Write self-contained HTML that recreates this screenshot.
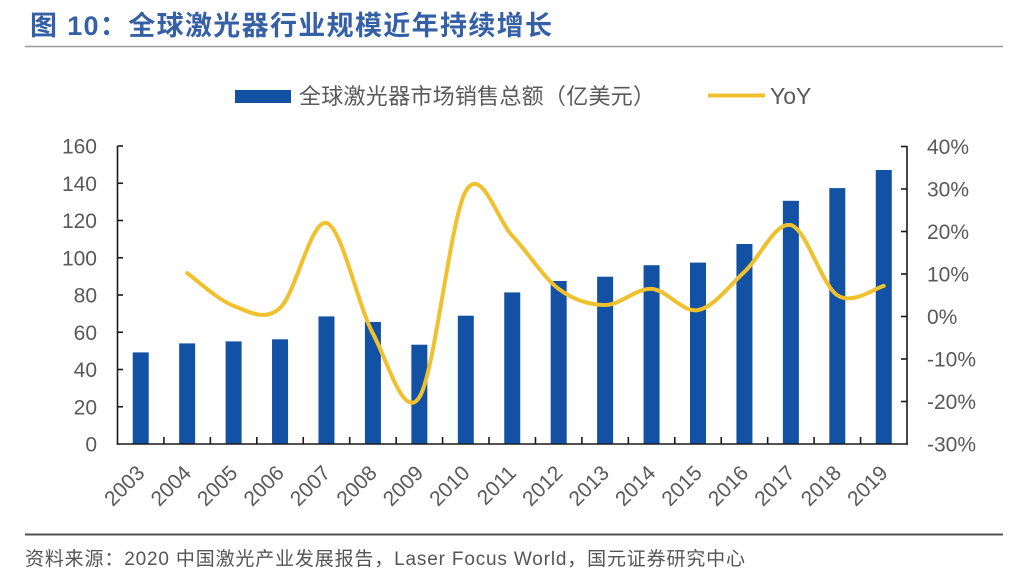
<!DOCTYPE html>
<html>
<head>
<meta charset="utf-8">
<style>
html,body{margin:0;padding:0;background:#fff;}
svg{display:block;}
text{font-family:"Liberation Sans","Noto Sans CJK SC",sans-serif;}
</style>
</head>
<body>
<svg width="1024" height="576" viewBox="0 0 1024 576" xmlns="http://www.w3.org/2000/svg">
<rect width="1024" height="576" fill="#fff"/>
<!-- Title -->
<text x="30" y="35" font-size="27" font-weight="bold" fill="#3560A6" textLength="522" lengthAdjust="spacing">图 10：全球激光器行业规模近年持续增长</text>
<line x1="25" y1="46.5" x2="1003" y2="46.5" stroke="#9a9a9a" stroke-width="1.6"/>

<!-- Legend -->
<rect x="235" y="90" width="56" height="13" fill="#1351A4"/>
<text x="299" y="104" font-size="22" fill="#595959" textLength="356" lengthAdjust="spacing">全球激光器市场销售总额（亿美元）</text>
<line x1="708" y1="95.5" x2="765" y2="95.5" stroke="#F0C12C" stroke-width="4"/>
<text x="770" y="104" font-size="23" fill="#595959">YoY</text>

<!-- Bars -->
<g fill="#1351A4">
<rect x="132.72" y="352.4" width="16" height="91.6"/>
<rect x="179.16" y="343.4" width="16" height="100.6"/>
<rect x="225.6" y="341.4" width="16" height="102.6"/>
<rect x="272.04" y="339.3" width="16" height="104.7"/>
<rect x="318.48" y="316.4" width="16" height="127.6"/>
<rect x="364.92" y="322.0" width="16" height="122.0"/>
<rect x="411.36" y="344.7" width="16" height="99.3"/>
<rect x="457.8" y="315.7" width="16" height="128.3"/>
<rect x="504.24" y="292.4" width="16" height="151.6"/>
<rect x="550.68" y="281.0" width="16" height="163.0"/>
<rect x="597.12" y="276.7" width="16" height="167.3"/>
<rect x="643.56" y="265.2" width="16" height="178.8"/>
<rect x="690.0" y="262.6" width="16" height="181.4"/>
<rect x="736.44" y="244.0" width="16" height="200.0"/>
<rect x="782.88" y="200.8" width="16" height="243.2"/>
<rect x="829.32" y="188.1" width="16" height="255.9"/>
<rect x="875.76" y="170.0" width="16" height="274.0"/>
</g>

<!-- YoY line -->
<path fill="none" stroke="#F0C12C" stroke-width="4" stroke-linecap="round" stroke-linejoin="round"
d="M187.16,273.15
C194.9,278.61 218.12,300.09 233.6,305.9
C249.08,311.71 264.56,321.82 280.04,308.0
C295.52,294.18 311.0,218.75 326.48,223.0
C341.96,227.25 357.44,304.46 372.92,333.5
C388.4,362.54 403.88,420.98 419.36,397.25
C434.84,373.52 450.32,218.02 465.8,191.1
C481.28,164.18 496.76,219.45 512.24,235.75
C527.72,252.05 543.2,277.36 558.68,288.9
C574.16,300.44 589.64,305.0 605.12,305.0
C620.6,305.0 636.08,288.05 651.56,288.9
C667.04,289.75 682.52,312.93 698.0,310.1
C713.48,307.27 728.96,286.07 744.44,271.9
C759.92,257.73 775.4,221.21 790.88,225.1
C806.36,228.99 821.84,285.12 837.32,295.25
C852.8,305.38 876.02,287.46 883.76,285.9"/>

<!-- Axes -->
<g stroke="#1a1a1a" stroke-width="1.6" fill="none">
<line x1="117.5" y1="146" x2="117.5" y2="444.8"/>
<line x1="907" y1="146" x2="907" y2="444.8"/>
<line x1="116.7" y1="444" x2="907.8" y2="444"/>
<!-- left ticks -->
<line x1="117.5" y1="146" x2="123" y2="146"/>
<line x1="117.5" y1="183.25" x2="123" y2="183.25"/>
<line x1="117.5" y1="220.5" x2="123" y2="220.5"/>
<line x1="117.5" y1="257.75" x2="123" y2="257.75"/>
<line x1="117.5" y1="295" x2="123" y2="295"/>
<line x1="117.5" y1="332.25" x2="123" y2="332.25"/>
<line x1="117.5" y1="369.5" x2="123" y2="369.5"/>
<line x1="117.5" y1="406.75" x2="123" y2="406.75"/>
<!-- right ticks -->
<line x1="901" y1="146.5" x2="907" y2="146.5"/>
<line x1="901" y1="189" x2="907" y2="189"/>
<line x1="901" y1="231.5" x2="907" y2="231.5"/>
<line x1="901" y1="274" x2="907" y2="274"/>
<line x1="901" y1="316.5" x2="907" y2="316.5"/>
<line x1="901" y1="359" x2="907" y2="359"/>
<line x1="901" y1="401.5" x2="907" y2="401.5"/>
<!-- bottom ticks -->
<line x1="163.94" y1="444" x2="163.94" y2="437"/>
<line x1="210.38" y1="444" x2="210.38" y2="437"/>
<line x1="256.82" y1="444" x2="256.82" y2="437"/>
<line x1="303.26" y1="444" x2="303.26" y2="437"/>
<line x1="349.7" y1="444" x2="349.7" y2="437"/>
<line x1="396.14" y1="444" x2="396.14" y2="437"/>
<line x1="442.58" y1="444" x2="442.58" y2="437"/>
<line x1="489.02" y1="444" x2="489.02" y2="437"/>
<line x1="535.46" y1="444" x2="535.46" y2="437"/>
<line x1="581.9" y1="444" x2="581.9" y2="437"/>
<line x1="628.34" y1="444" x2="628.34" y2="437"/>
<line x1="674.78" y1="444" x2="674.78" y2="437"/>
<line x1="721.22" y1="444" x2="721.22" y2="437"/>
<line x1="767.66" y1="444" x2="767.66" y2="437"/>
<line x1="814.1" y1="444" x2="814.1" y2="437"/>
<line x1="860.54" y1="444" x2="860.54" y2="437"/>
</g>

<!-- Left axis labels -->
<g font-size="21" fill="#595959" text-anchor="end">
<text x="97" y="153.5">160</text>
<text x="97" y="190.75">140</text>
<text x="97" y="228">120</text>
<text x="97" y="265.25">100</text>
<text x="97" y="302.5">80</text>
<text x="97" y="339.75">60</text>
<text x="97" y="377">40</text>
<text x="97" y="414.25">20</text>
<text x="97" y="451.5">0</text>
</g>

<!-- Right axis labels -->
<g font-size="21" fill="#595959">
<text x="927" y="154">40%</text>
<text x="927" y="196.5">30%</text>
<text x="927" y="239">20%</text>
<text x="927" y="281.5">10%</text>
<text x="927" y="324">0%</text>
<text x="927" y="366.5">-10%</text>
<text x="927" y="409">-20%</text>
<text x="927" y="451.5">-30%</text>
</g>

<!-- X labels -->
<g font-size="21" fill="#595959" text-anchor="end">
<text transform="translate(140.72,469) rotate(-45)" dy="0.35em">2003</text>
<text transform="translate(187.16,469) rotate(-45)" dy="0.35em">2004</text>
<text transform="translate(233.6,469) rotate(-45)" dy="0.35em">2005</text>
<text transform="translate(280.04,469) rotate(-45)" dy="0.35em">2006</text>
<text transform="translate(326.48,469) rotate(-45)" dy="0.35em">2007</text>
<text transform="translate(372.92,469) rotate(-45)" dy="0.35em">2008</text>
<text transform="translate(419.36,469) rotate(-45)" dy="0.35em">2009</text>
<text transform="translate(465.8,469) rotate(-45)" dy="0.35em">2010</text>
<text transform="translate(512.24,469) rotate(-45)" dy="0.35em">2011</text>
<text transform="translate(558.68,469) rotate(-45)" dy="0.35em">2012</text>
<text transform="translate(605.12,469) rotate(-45)" dy="0.35em">2013</text>
<text transform="translate(651.56,469) rotate(-45)" dy="0.35em">2014</text>
<text transform="translate(698.0,469) rotate(-45)" dy="0.35em">2015</text>
<text transform="translate(744.44,469) rotate(-45)" dy="0.35em">2016</text>
<text transform="translate(790.88,469) rotate(-45)" dy="0.35em">2017</text>
<text transform="translate(837.32,469) rotate(-45)" dy="0.35em">2018</text>
<text transform="translate(883.76,469) rotate(-45)" dy="0.35em">2019</text>
</g>

<!-- Footer -->
<line x1="25" y1="534.5" x2="1003" y2="534.5" stroke="#505050" stroke-width="2"/>
<text x="25" y="565" font-size="19" fill="#555" textLength="720" lengthAdjust="spacing">资料来源：2020 中国激光产业发展报告，Laser Focus World，国元证券研究中心</text>
</svg>
</body>
</html>
